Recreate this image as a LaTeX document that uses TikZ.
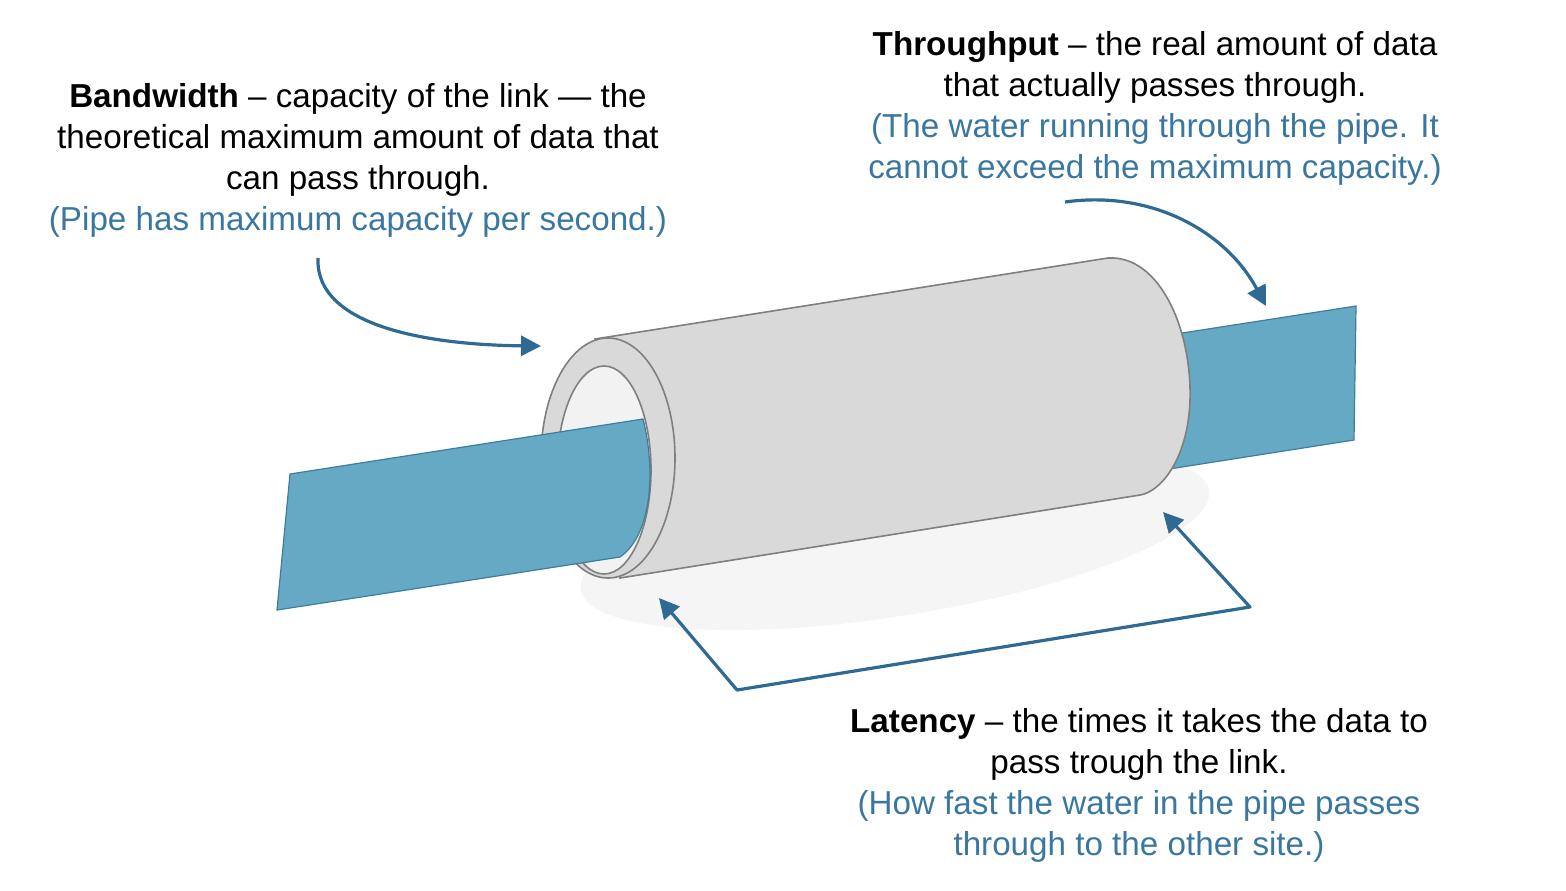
\documentclass[tikz,border=0pt]{standalone}
\usepackage{fontspec}
\setmainfont{Liberation Sans}
\usetikzlibrary{arrows.meta}
\definecolor{water}{HTML}{65A9C4}
\definecolor{wedge}{HTML}{3F7E9A}
\definecolor{sleeve}{HTML}{D9D9D9}
\definecolor{sedge}{HTML}{7F7F7F}
\definecolor{arr}{HTML}{2E6A94}
\definecolor{note}{HTML}{3A77A0}
\definecolor{shadow}{HTML}{F5F5F5}
\begin{document}
\begin{tikzpicture}[x=0.5pt,y=-0.5pt,
  txt/.style={align=center,font=\fontsize{16.6}{20.5}\selectfont,inner sep=0},
  arrw/.style={draw=arr,line width=1.6pt,-{Triangle[length=10pt,width=10pt]}},
  blue/.style={fill=water,draw=wedge,line width=0.6pt},
  gry/.style={fill=sleeve,draw=sedge,line width=0.8pt}]
\useasboundingbox (0,0) rectangle (1566,890);
% shadow
\fill[shadow,rotate around={9:(895,540)}] (895,540) ellipse [x radius=318,y radius=76];
% right water
\path[blue] (1150,338) -- (1356,306) -- (1354,440) -- (1150,472) -- cycle;
% sleeve body
\path[gry] (595,339) -- (1108,258) .. controls (1160,255) and (1192,330) .. (1190,400)
  .. controls (1188,460) and (1160,492) .. (1140,495) -- (620,578) -- cycle;
% outer ring
\path[gry] (608,458) ellipse [x radius=67,y radius=120];
% inner hole
\path[fill=black!5,draw=sedge,line width=0.8pt] (604,470) ellipse [x radius=47,y radius=104];
% left water
\path[blue] (290,474) -- (643,419) .. controls (656,470) and (652,535) .. (620,557) -- (277,610) -- cycle;
% texts
\node[txt] (bw) at (358,160) {\textbf{Bandwidth} -- capacity of the link — the\\theoretical maximum amount of data that\\can pass through.\\\textcolor{note}{(Pipe has maximum capacity per second.)}};
\node[txt] (tp) at (1155,108) {\textbf{Throughput} -- the real amount of data\\that actually passes through.\\\textcolor{note}{(The water running through the pipe. It}\\\textcolor{note}{cannot exceed the maximum capacity.)}};
\node[txt] (lt) at (1139,785) {\textbf{Latency} -- the times it takes the data to\\pass trough the link.\\\textcolor{note}{(How fast the water in the pipe passes}\\\textcolor{note}{through to the other site.)}};
% arrows
\coordinate (b0) at (318,258); \coordinate (b1) at (541,346);
\coordinate (t0) at (1065,202); \coordinate (t1) at (1266,306);
\coordinate (l1) at (1163,512); \coordinate (la) at (1250,607);
\coordinate (lb) at (737,690); \coordinate (l2) at (659,598);
\draw[arrw] (b0) .. controls (315,330) and (440,345) .. (b1);
\draw[arrw] (t0) .. controls (1150,190) and (1225,230) .. (t1);
\draw[arrw,{Triangle[length=10pt,width=10pt]}-{Triangle[length=10pt,width=10pt]},line join=round] (l1) -- (la) -- (lb) -- (l2);
\end{tikzpicture}
\end{document}
